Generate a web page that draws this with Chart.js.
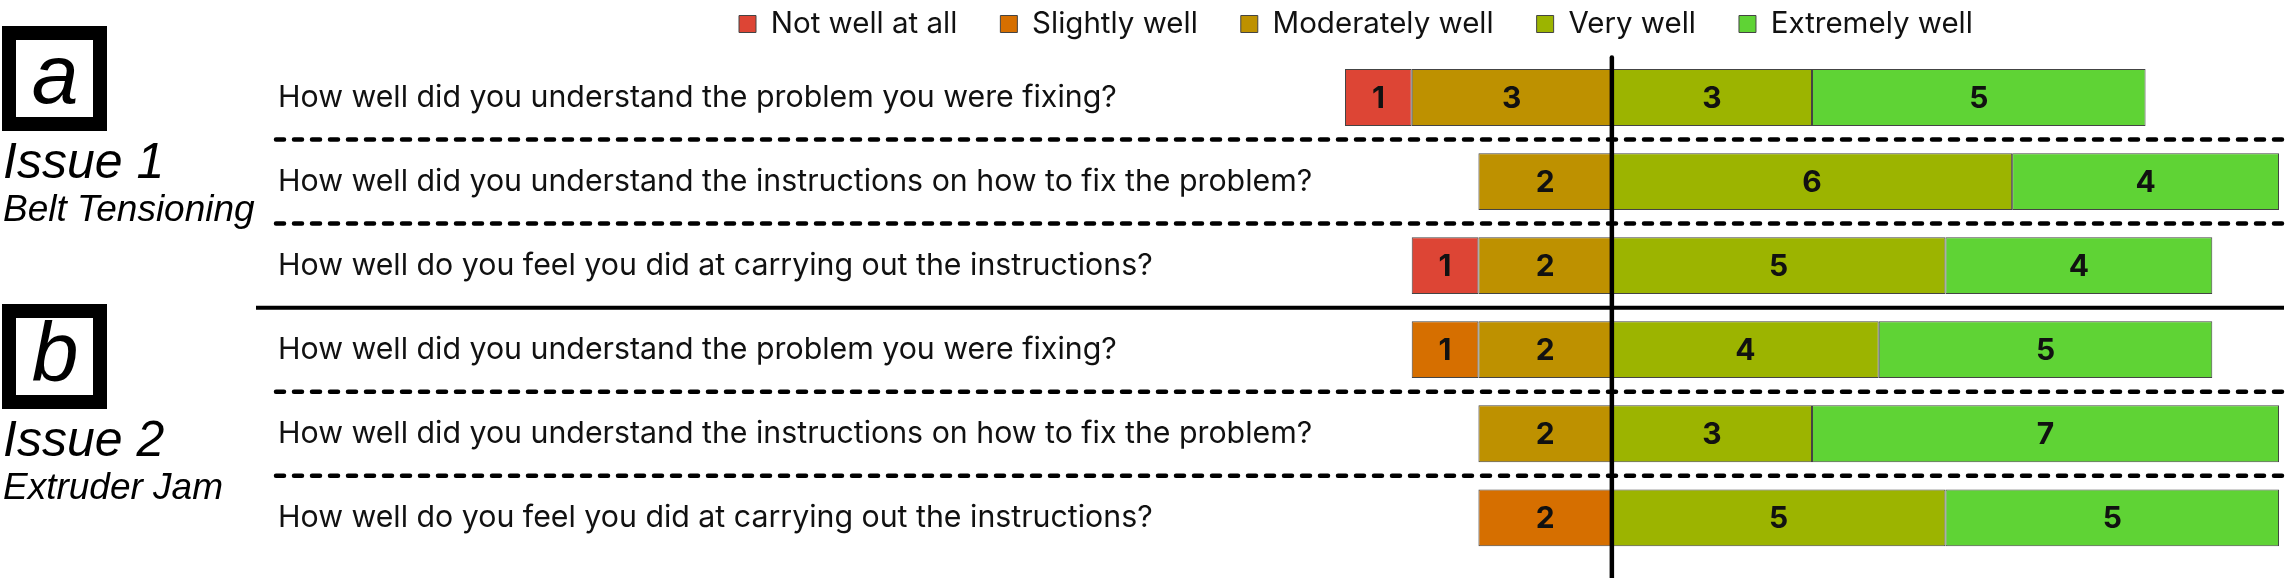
<!DOCTYPE html>
<html>
<head>
<meta charset="utf-8">
<script src="https://cdn.jsdelivr.net/npm/chart.js@4.4.1/dist/chart.umd.min.js"></script>
<style>
  html, body { margin: 0; padding: 0; background: #fff; }
  #wrap { position: relative; width: 2294px; height: 578px; }
</style>
</head>
<body>
<div id="wrap"><canvas id="likertChart"></canvas></div>
<script>
// questions, top to bottom (3 per issue)
var questions = [
  'How well did you understand the problem you were fixing?',
  'How well did you understand the instructions on how to fix the problem?',
  'How well do you feel you did at carrying out the instructions?',
  'How well did you understand the problem you were fixing?',
  'How well did you understand the instructions on how to fix the problem?',
  'How well do you feel you did at carrying out the instructions?'
];

// answer counts per question
var notWell        = [1, 0, 1, 0, 0, 0];
var slightlyWell   = [0, 0, 0, 1, 0, 2];
var moderatelyWell = [3, 2, 2, 2, 2, 0];
var veryWell       = [3, 6, 5, 4, 3, 5];
var extremelyWell  = [5, 4, 4, 5, 7, 5];

var answerNames  = ['Not well at all', 'Slightly well', 'Moderately well', 'Very well', 'Extremely well'];
var answerColors = ['#dd4535', '#d66f00', '#be9100', '#9cb400', '#5fd335'];

var groupLetters   = ['a', 'b'];
var groupTitles    = ['Issue 1', 'Issue 2'];
var groupSubtitles = ['Belt Tensioning', 'Extruder Jam'];

var panelTops = [26, 304];
var questionsPerGroup = 3;

Chart.defaults.font.family = 'Inter';
Chart.defaults.color = '#111';

function toBars(counts, negative) {
  return counts.map(function (v) {
    if (!v) return null;
    return negative ? -v : v;
  });
}

// disagree side goes left, stacked outwards from the middle
var allCounts = [notWell, slightlyWell, moderatelyWell, veryWell, extremelyWell];
var negSide   = [true, true, true, false, false];
var stackRank = [2, 1, 0, 3, 4];

var datasets = allCounts.map(function (counts, i) {
  return {
    label: answerNames[i],
    data: toBars(counts, negSide[i]),
    backgroundColor: answerColors[i],
    borderColor: '#444',
    borderWidth: 1,
    borderSkipped: false,
    order: stackRank[i],
    barPercentage: 0.676,
    categoryPercentage: 1
  };
});

var surveyDecor = {
  id: 'surveyDecor',
  afterLayout: function (chart) {
    // put the legend where it sits in the figure
    var lg = chart.legend;
    if (!lg) return;
    var pad = lg.options.labels.padding;
    var fs = lg.options.labels.font.size;
    var h = lg.bottom - lg.top;
    lg.left = 739 - pad;
    lg.right = lg.left + 2294;
    lg.top = 24 - fs / 2 - pad;
    lg.bottom = lg.top + h;
  },
  beforeDatasetsDraw: function (chart) {
    var ctx = chart.ctx;
    var y = chart.scales.y;
    ctx.save();
    ctx.strokeStyle = '#000';
    for (var i = 0; i < questions.length - 1; i++) {
      var yy = (y.getPixelForValue(i) + y.getPixelForValue(i + 1)) / 2;
      ctx.beginPath();
      if ((i + 1) % questionsPerGroup === 0) {
        ctx.setLineDash([]);
        ctx.lineWidth = 4;
        ctx.lineCap = 'butt';
        ctx.moveTo(256, yy);
      } else {
        ctx.setLineDash([8, 10]);
        ctx.lineWidth = 4.5;
        ctx.lineCap = 'round';
        ctx.moveTo(276, yy);
      }
      ctx.lineTo(2284, yy);
      ctx.stroke();
    }
    ctx.restore();
  },
  afterDatasetsDraw: function (chart) {
    var ctx = chart.ctx;
    ctx.save();
    ctx.font = 'bold 30px Inter';
    ctx.fillStyle = '#111';
    ctx.textAlign = 'center';
    ctx.textBaseline = 'middle';
    chart.data.datasets.forEach(function (ds, di) {
      var meta = chart.getDatasetMeta(di);
      meta.data.forEach(function (bar, j) {
        var v = ds.data[j];
        if (!v) return;
        ctx.fillText(String(Math.abs(v)), (bar.x + bar.base) / 2, bar.y + 1);
      });
    });
    // neutral line
    var x0 = chart.scales.x.getPixelForValue(0);
    ctx.strokeStyle = '#000';
    ctx.lineWidth = 4.5;
    ctx.lineCap = 'round';
    ctx.beginPath();
    ctx.moveTo(x0, chart.chartArea.top + 2);
    ctx.lineTo(x0, chart.height + 5);
    ctx.stroke();
    ctx.restore();
  },
  afterDraw: function (chart) {
    var ctx = chart.ctx;
    ctx.save();
    ctx.fillStyle = '#000';
    ctx.strokeStyle = '#000';
    groupLetters.forEach(function (letter, g) {
      var top = panelTops[g];
      ctx.lineWidth = 14;
      ctx.strokeRect(9, top + 7, 91, 91);
      ctx.textAlign = 'center';
      ctx.textBaseline = 'alphabetic';
      ctx.font = 'italic 84px "Liberation Sans"';
      ctx.fillText(letter, 55, top + 77);
      ctx.textAlign = 'left';
      ctx.font = 'italic 50px "Liberation Sans"';
      ctx.fillText(groupTitles[g], 3, top + 152);
      ctx.font = 'italic 37px "Liberation Sans"';
      ctx.fillText(groupSubtitles[g], 3, top + 195);
    });
    ctx.restore();
  }
};

var chart = new Chart(document.getElementById('likertChart'), {
  type: 'bar',
  data: {
    labels: questions,
    datasets: datasets
  },
  options: {
    indexAxis: 'y',
    responsive: true,
    maintainAspectRatio: false,
    animation: false,
    layout: { padding: { top: -27, left: 278, right: 15, bottom: 8 } },
    scales: {
      x: {
        stacked: true,
        min: -4,
        max: 10,
        display: false
      },
      y: {
        stacked: true,
        grid: { display: false },
        border: { display: false },
        ticks: {
          crossAlign: 'far',
          padding: 0,
          color: '#111',
          font: { size: 30.3 }
        },
        afterFit: function (scale) {
          scale.width = 1345 - 278;
        }
      }
    },
    plugins: {
      legend: {
        position: 'top',
        align: 'start',
        labels: {
          boxWidth: 17,
          boxHeight: 17,
          padding: 43,
          color: '#111',
          font: { size: 29.5 },
          sort: function (a, b) { return a.datasetIndex - b.datasetIndex; }
        }
      },
      tooltip: { enabled: false }
    }
  },
  plugins: [surveyDecor]
});
</script>
</body>
</html>
